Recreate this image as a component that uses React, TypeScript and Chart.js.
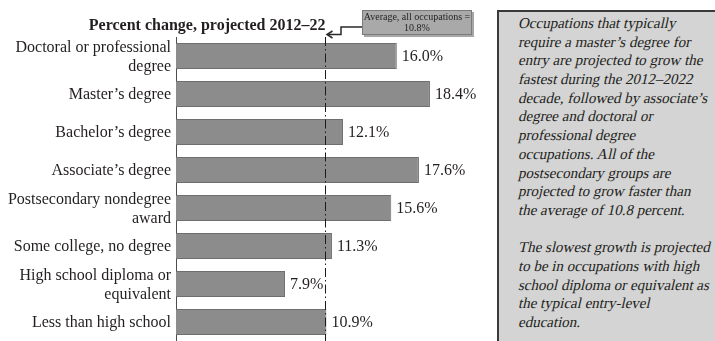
import React, { useEffect, useRef } from "react";
import { Chart, registerables } from "chart.js";

Chart.register(...registerables);

const categories: (string | string[])[] = [
  ["Doctoral or professional", "degree"],
  "Master’s degree",
  "Bachelor’s degree",
  "Associate’s degree",
  ["Postsecondary nondegree", "award"],
  "Some college, no degree",
  ["High school diploma or", "equivalent"],
  "Less than high school",
];
const values = [16.0, 18.4, 12.1, 17.6, 15.6, 11.3, 7.9, 10.9];
const averageValue = 10.8;
const chartTitle = "Percent change, projected 2012–22";
const averageLabel = ["Average, all occupations =", "10.8%"];
const noteParagraph1 = [
  "Occupations that typically",
  "require a master’s degree for",
  "entry are projected to grow the",
  "fastest during the 2012–2022",
  "decade, followed by associate’s",
  "degree and doctoral or",
  "professional degree",
  "occupations. All of the",
  "postsecondary groups are",
  "projected to grow faster than",
  "the average of 10.8 percent.",
];
const noteParagraph2 = [
  "The slowest growth is projected",
  "to be in occupations with high",
  "school diploma or equivalent as",
  "the typical entry-level",
  "education.",
];

const SERIF = "'Liberation Serif', 'DejaVu Serif', serif";
const TEXT = "#231f20";

function NoteLine({ text }: { text: string }) {
  return (
    <div style={{ height: 18.7 }}>
      <span
        style={{
          display: "inline-block",
          transform: "skewX(-13deg)",
          transformOrigin: "0 75%",
        }}
      >
        {text}
      </span>
    </div>
  );
}

export default function App() {
  const ref = useRef<HTMLCanvasElement | null>(null);

  useEffect(() => {
    if (!ref.current) return;
    const overlay = {
      id: "overlay",
      afterDatasetsDraw(chart: any) {
        const ctx = chart.ctx;
        const x = chart.scales.x;
        const area = chart.chartArea;
        const meta = chart.getDatasetMeta(0);
        ctx.save();
        ctx.font = `16px ${SERIF}`;
        ctx.fillStyle = TEXT;
        ctx.textAlign = "left";
        ctx.textBaseline = "middle";
        meta.data.forEach((bar: any, i: number) => {
          ctx.fillText(values[i].toFixed(1) + "%", bar.x + 5, bar.y + 1);
        });
        const ax = Math.round(x.getPixelForValue(averageValue)) + 0.5;
        ctx.strokeStyle = "#1a1a1a";
        ctx.lineWidth = 1;
        ctx.setLineDash([9, 3, 1.5, 3]);
        ctx.beginPath();
        ctx.moveTo(ax, area.top);
        ctx.lineTo(ax, area.bottom);
        ctx.stroke();
        ctx.setLineDash([]);
        ctx.font = `bold 16px ${SERIF}`;
        ctx.textAlign = "right";
        ctx.textBaseline = "alphabetic";
        ctx.fillText(chartTitle, ax, 30);
        const bx = 362, by = 10, bw = 110, bh = 25;
        ctx.fillStyle = "rgba(0,0,0,0.35)";
        ctx.fillRect(bx + 2, by + 2, bw, bh);
        ctx.fillStyle = "#a9a9a9";
        ctx.fillRect(bx, by, bw, bh);
        ctx.strokeStyle = "#7a7a7a";
        ctx.lineWidth = 1;
        ctx.strokeRect(bx + 0.5, by + 0.5, bw - 1, bh - 1);
        ctx.fillStyle = TEXT;
        ctx.font = `10px ${SERIF}`;
        ctx.textAlign = "center";
        ctx.textBaseline = "middle";
        ctx.fillText(averageLabel[0], bx + bw / 2, by + 7);
        ctx.fillText(averageLabel[1], bx + bw / 2, by + 18);
        ctx.strokeStyle = "#2a2a2a";
        ctx.lineWidth = 1.5;
        ctx.beginPath();
        ctx.moveTo(bx, 27);
        ctx.lineTo(341, 27);
        ctx.lineTo(341, 34.5);
        ctx.lineTo(ax + 2, 34.5);
        ctx.stroke();
        ctx.beginPath();
        ctx.moveTo(ax + 7, 31);
        ctx.lineTo(ax + 1.5, 34.5);
        ctx.lineTo(ax + 7, 38);
        ctx.stroke();
        ctx.restore();
      },
    };

    const chart = new Chart(ref.current, {
      type: "bar",
      data: {
        labels: categories,
        datasets: [
          {
            data: values,
            backgroundColor: "#8c8c8c",
            borderColor: "#6f6f6f",
            borderWidth: 1,
            barPercentage: 0.68,
            categoryPercentage: 1,
          },
        ],
      },
      options: {
        indexAxis: "y",
        animation: false,
        responsive: false,
        maintainAspectRatio: false,
        layout: { padding: { top: 37, right: 263, bottom: 0, left: 0 } },
        plugins: {
          legend: { display: false },
          tooltip: { enabled: false },
          title: { display: false },
        },
        scales: {
          x: { display: false, min: 0, max: 20 },
          y: {
            grid: { display: false, drawTicks: false },
            border: { display: true, color: "#4d4d4d", width: 1 },
            ticks: {
              autoSkip: false,
              color: TEXT,
              font: { family: SERIF, size: 16, lineHeight: 1.2 },
              padding: 5,
              labelOffset: 1,
            },
            afterFit(scale: any) {
              scale.width = 176;
              scale.paddingTop = 0;
              scale.paddingBottom = 0;
            },
          },
        },
      },
      plugins: [overlay],
    } as any);
    return () => chart.destroy();
  }, []);

  return (
    <div
      style={{
        position: "absolute",
        left: 0,
        top: 0,
        width: 715,
        height: 341,
        overflow: "hidden",
        background: "#fff",
      }}
    >
      <canvas ref={ref} width={715} height={341} style={{ display: "block" }} />
      <div
        style={{
          position: "absolute",
          left: 497,
          top: 10,
          width: 230,
          height: 340,
          boxSizing: "border-box",
          background: "#d4d4d4",
          borderLeft: "2px solid #3a3a3a",
          borderTop: "2px solid #3a3a3a",
          padding: "2px 0 0 19px",
          fontFamily: SERIF,
          fontSize: 15,
          lineHeight: "18.7px",
          color: TEXT,
          whiteSpace: "nowrap",
        }}
      >
        {noteParagraph1.map((l, i) => (
          <NoteLine key={"a" + i} text={l} />
        ))}
        <div style={{ height: 18.7 }} />
        {noteParagraph2.map((l, i) => (
          <NoteLine key={"b" + i} text={l} />
        ))}
      </div>
    </div>
  );
}
